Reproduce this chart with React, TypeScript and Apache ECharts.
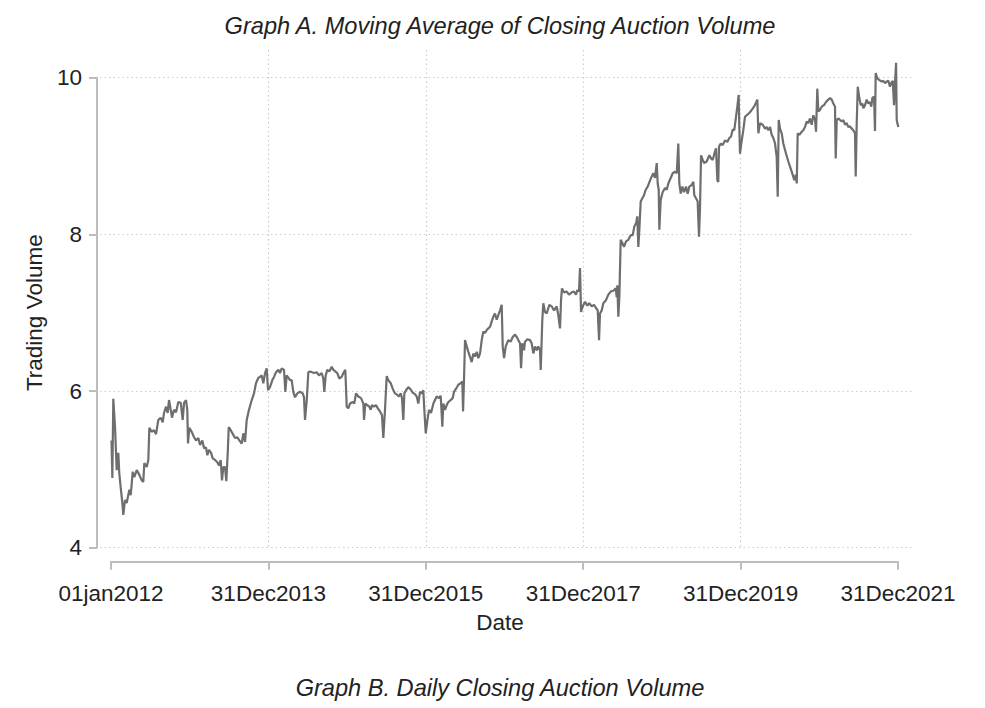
import { useEffect, useRef } from "react";
import * as echarts from "echarts";

const FONT = "'Liberation Sans', Arial, sans-serif";
const TEXT = "#222222";
const AXIS = "#bdbdbd";
const GRID = "#cdcdcd";

const titleA = "Graph A. Moving Average of Closing Auction Volume";
const titleB = "Graph B. Daily Closing Auction Volume";

// x ticks every two years, from 2012.0 to 2022.0 (decimal years)
const xTickLabels = ["01jan2012", "31Dec2013", "31Dec2015", "31Dec2017", "31Dec2019", "31Dec2021"];
const yMin = 4;
const yMax = 10;
const yStep = 2;

// [decimal year, volume]
const vol2012_13: [number, number][] = [
  [2012.006, 5.37], [2012.017, 4.89], [2012.029, 5.9], [2012.051, 5.54], [2012.072, 4.99], [2012.093, 5.21],
  [2012.105, 4.95], [2012.123, 4.77], [2012.144, 4.57], [2012.156, 4.42], [2012.178, 4.61], [2012.199, 4.57],
  [2012.233, 4.74], [2012.25, 4.67], [2012.276, 4.97], [2012.296, 4.9], [2012.327, 4.99], [2012.36, 4.93],
  [2012.39, 4.86], [2012.41, 4.84], [2012.423, 5.08], [2012.454, 5.03], [2012.474, 5.12], [2012.487, 5.53],
  [2012.517, 5.48], [2012.546, 5.5], [2012.572, 5.45], [2012.601, 5.63], [2012.631, 5.66], [2012.657, 5.6],
  [2012.673, 5.72], [2012.699, 5.8], [2012.72, 5.72], [2012.737, 5.885], [2012.759, 5.76], [2012.775, 5.66],
  [2012.8, 5.76], [2012.826, 5.73], [2012.855, 5.86], [2012.886, 5.85], [2012.911, 5.63], [2012.928, 5.85],
  [2012.953, 5.885], [2012.969, 5.76], [2012.978, 5.33], [2012.995, 5.53],
  [2013.025, 5.48], [2013.055, 5.41], [2013.08, 5.37], [2013.109, 5.4], [2013.131, 5.31], [2013.16, 5.37],
  [2013.182, 5.27], [2013.207, 5.28], [2013.224, 5.18], [2013.245, 5.25], [2013.271, 5.21], [2013.292, 5.14],
  [2013.321, 5.12], [2013.351, 5.09], [2013.372, 5.05], [2013.394, 5.12], [2013.41, 4.86], [2013.427, 5.03],
  [2013.448, 5.03], [2013.465, 4.85], [2013.483, 5.21], [2013.496, 5.54], [2013.521, 5.5], [2013.554, 5.44],
  [2013.576, 5.4], [2013.605, 5.41], [2013.63, 5.37], [2013.661, 5.33], [2013.681, 5.46], [2013.703, 5.35],
  [2013.724, 5.63], [2013.753, 5.76], [2013.788, 5.885], [2013.817, 5.97], [2013.842, 6.1], [2013.872, 6.17],
  [2013.893, 6.18], [2013.915, 6.2], [2013.935, 6.1], [2013.957, 6.23], [2013.978, 6.29], [2013.995, 6.01],
];

const vol2014_15: [number, number][] = [
  [2014.02, 6.05], [2014.05, 6.14], [2014.071, 6.18], [2014.096, 6.24], [2014.126, 6.27], [2014.147, 6.23],
  [2014.169, 6.29], [2014.198, 6.27], [2014.215, 5.99], [2014.232, 6.2], [2014.253, 6.17], [2014.274, 6.14],
  [2014.296, 6.14], [2014.316, 5.99], [2014.338, 5.92], [2014.367, 5.97], [2014.401, 5.99], [2014.436, 5.97],
  [2014.452, 5.92], [2014.465, 5.63], [2014.487, 5.885], [2014.507, 6.24], [2014.528, 6.25], [2014.579, 6.23],
  [2014.614, 6.24], [2014.643, 6.2], [2014.677, 6.23], [2014.697, 6.16], [2014.71, 5.99], [2014.728, 6.2],
  [2014.748, 6.27], [2014.774, 6.25], [2014.804, 6.31], [2014.825, 6.27], [2014.85, 6.25], [2014.875, 6.23],
  [2014.901, 6.16], [2014.931, 6.18], [2014.952, 6.23], [2014.977, 6.27], [2014.995, 5.8],
  [2015.015, 5.78], [2015.037, 5.84], [2015.071, 5.86], [2015.091, 5.84], [2015.113, 5.97], [2015.142, 5.93],
  [2015.177, 5.91], [2015.206, 5.84], [2015.215, 5.63], [2015.231, 5.84], [2015.257, 5.82], [2015.282, 5.8],
  [2015.3, 5.76], [2015.316, 5.82], [2015.342, 5.8], [2015.367, 5.82], [2015.389, 5.78], [2015.418, 5.74],
  [2015.443, 5.69], [2015.46, 5.4], [2015.481, 5.76], [2015.503, 6.19], [2015.523, 6.14], [2015.554, 6.1],
  [2015.579, 6.03], [2015.609, 5.97], [2015.638, 5.95], [2015.659, 5.93], [2015.681, 5.97], [2015.697, 5.91],
  [2015.714, 5.63], [2015.727, 5.97], [2015.748, 6.01], [2015.778, 6.05], [2015.808, 6.02], [2015.833, 5.98],
  [2015.863, 5.96], [2015.884, 5.93], [2015.905, 5.84], [2015.926, 5.99], [2015.948, 5.97], [2015.968, 6.01],
  [2015.981, 5.76], [2015.999, 5.46],
];

const vol2016_17: [number, number][] = [
  [2016.02, 5.63], [2016.041, 5.76], [2016.066, 5.72], [2016.096, 5.84], [2016.117, 5.885], [2016.138, 5.93],
  [2016.168, 5.91], [2016.189, 5.94], [2016.21, 5.545], [2016.222, 5.84], [2016.244, 5.76], [2016.265, 5.82],
  [2016.286, 5.86], [2016.316, 5.885], [2016.342, 5.91], [2016.358, 5.99], [2016.384, 6.03], [2016.413, 6.08],
  [2016.443, 6.1], [2016.464, 6.12], [2016.473, 5.74], [2016.485, 6.14], [2016.498, 6.65], [2016.52, 6.57],
  [2016.54, 6.5], [2016.561, 6.44], [2016.583, 6.37], [2016.604, 6.48], [2016.625, 6.44], [2016.647, 6.5],
  [2016.667, 6.42], [2016.689, 6.48], [2016.71, 6.65], [2016.731, 6.76], [2016.752, 6.74], [2016.774, 6.78],
  [2016.794, 6.8], [2016.816, 6.82], [2016.837, 6.89], [2016.858, 6.95], [2016.879, 6.99], [2016.901, 6.91],
  [2016.921, 6.97], [2016.943, 7.03], [2016.964, 7.1], [2016.977, 6.57], [2016.994, 6.42],
  [2017.015, 6.57], [2017.048, 6.65], [2017.079, 6.63], [2017.104, 6.69], [2017.133, 6.72], [2017.155, 6.69],
  [2017.175, 6.65], [2017.197, 6.61], [2017.21, 6.29], [2017.226, 6.61], [2017.248, 6.52], [2017.26, 6.63],
  [2017.29, 6.66], [2017.324, 6.65], [2017.345, 6.61], [2017.366, 6.48], [2017.387, 6.57], [2017.409, 6.52],
  [2017.429, 6.57], [2017.451, 6.52], [2017.46, 6.27], [2017.48, 6.91], [2017.493, 7.12], [2017.514, 7.01],
  [2017.536, 6.99], [2017.569, 7.1], [2017.6, 7.08], [2017.629, 7.03], [2017.663, 7.08], [2017.683, 6.97],
  [2017.705, 6.8], [2017.718, 7.16], [2017.73, 7.31], [2017.756, 7.26], [2017.79, 7.27], [2017.819, 7.23],
  [2017.854, 7.26], [2017.883, 7.27], [2017.908, 7.23], [2017.925, 7.29], [2017.946, 7.27], [2017.959, 7.57],
  [2017.972, 7.01], [2017.993, 7.08],
];

const vol2018_19: [number, number][] = [
  [2018.023, 7.14], [2018.052, 7.09], [2018.077, 7.12], [2018.108, 7.08], [2018.137, 7.1], [2018.162, 7.06],
  [2018.184, 7.03], [2018.201, 6.65], [2018.213, 6.99], [2018.235, 7.03], [2018.255, 7.12], [2018.289, 7.16],
  [2018.319, 7.23], [2018.349, 7.27], [2018.382, 7.28], [2018.413, 7.31], [2018.425, 7.2], [2018.433, 7.35],
  [2018.446, 6.95], [2018.459, 7.2], [2018.476, 7.93], [2018.497, 7.89], [2018.518, 7.84], [2018.544, 7.91],
  [2018.573, 7.93], [2018.603, 7.99], [2018.629, 7.99], [2018.649, 8.1], [2018.671, 8.14], [2018.687, 8.23],
  [2018.7, 7.84], [2018.713, 8.06], [2018.73, 8.42], [2018.751, 8.46], [2018.772, 8.5], [2018.794, 8.57],
  [2018.819, 8.61], [2018.849, 8.69], [2018.87, 8.74], [2018.891, 8.78], [2018.912, 8.72], [2018.934, 8.91],
  [2018.946, 8.65], [2018.959, 8.57], [2018.967, 8.06], [2018.984, 8.44],
  [2019.01, 8.54], [2019.039, 8.59], [2019.061, 8.57], [2019.081, 8.65], [2019.111, 8.72], [2019.137, 8.78],
  [2019.166, 8.8], [2019.188, 8.78], [2019.208, 9.16], [2019.221, 8.65], [2019.239, 8.52], [2019.259, 8.61],
  [2019.281, 8.54], [2019.306, 8.61], [2019.327, 8.52], [2019.348, 8.61], [2019.378, 8.63], [2019.399, 8.67],
  [2019.411, 8.5], [2019.433, 8.46], [2019.454, 8.42], [2019.471, 7.97], [2019.484, 8.35], [2019.497, 9.01],
  [2019.518, 8.95], [2019.535, 8.91], [2019.569, 8.93], [2019.602, 9.01], [2019.624, 8.97], [2019.645, 8.95],
  [2019.666, 9.03], [2019.687, 9.1], [2019.704, 8.69], [2019.716, 8.67], [2019.725, 9.12], [2019.747, 9.16],
  [2019.772, 9.14], [2019.801, 9.2], [2019.831, 9.18], [2019.856, 9.23], [2019.878, 9.25], [2019.899, 9.34],
  [2019.919, 9.33], [2019.941, 9.5], [2019.958, 9.63], [2019.975, 9.78], [2019.983, 9.37], [2019.992, 9.03],
];

const vol2020_21: [number, number][] = [
  [2020.008, 9.16], [2020.034, 9.33], [2020.055, 9.5], [2020.077, 9.52], [2020.11, 9.55], [2020.141, 9.59],
  [2020.17, 9.63], [2020.195, 9.68], [2020.212, 9.72], [2020.225, 9.29], [2020.246, 9.42], [2020.28, 9.4],
  [2020.31, 9.35], [2020.332, 9.37], [2020.352, 9.33], [2020.374, 9.37], [2020.395, 9.27], [2020.416, 9.23],
  [2020.437, 9.16], [2020.458, 8.99], [2020.471, 8.48], [2020.484, 9.46], [2020.5, 9.35], [2020.522, 9.29],
  [2020.542, 9.16], [2020.577, 9.03], [2020.606, 8.93], [2020.636, 8.84], [2020.662, 8.76], [2020.682, 8.69],
  [2020.7, 8.76], [2020.713, 8.65], [2020.725, 9.29], [2020.746, 9.27], [2020.776, 9.31], [2020.796, 9.33],
  [2020.818, 9.37], [2020.839, 9.44], [2020.86, 9.42], [2020.881, 9.48], [2020.903, 9.4], [2020.923, 9.52],
  [2020.945, 9.46], [2020.958, 9.31], [2020.974, 9.86], [2020.987, 9.57],
  [2021.009, 9.59], [2021.03, 9.63], [2021.059, 9.65], [2021.085, 9.69], [2021.114, 9.72], [2021.136, 9.74],
  [2021.157, 9.72], [2021.178, 9.67], [2021.199, 9.63], [2021.208, 8.97], [2021.221, 9.46], [2021.241, 9.48],
  [2021.263, 9.46], [2021.284, 9.44], [2021.305, 9.46], [2021.326, 9.4], [2021.348, 9.42], [2021.368, 9.37],
  [2021.39, 9.38], [2021.411, 9.35], [2021.432, 9.33], [2021.453, 9.29], [2021.462, 8.74], [2021.475, 9.42],
  [2021.488, 9.885], [2021.508, 9.74], [2021.526, 9.65], [2021.546, 9.67], [2021.559, 9.61], [2021.58, 9.65],
  [2021.602, 9.72], [2021.622, 9.67], [2021.644, 9.69], [2021.66, 9.63], [2021.673, 9.74], [2021.695, 9.76],
  [2021.707, 9.32], [2021.716, 10.06], [2021.737, 9.99], [2021.762, 9.97], [2021.793, 9.95], [2021.813, 9.96],
  [2021.835, 9.93], [2021.856, 9.95], [2021.877, 9.96], [2021.898, 9.885], [2021.911, 9.93], [2021.933, 9.96],
  [2021.949, 9.65], [2021.962, 9.95], [2021.975, 10.19], [2021.983, 9.46], [2021.991, 9.42], [2022.004, 9.37],
];

const volume = [...vol2012_13, ...vol2014_15, ...vol2016_17, ...vol2018_19, ...vol2020_21];

// the plot region is a little wider than the date range (Stata style)
const X_MIN = 2012 - 0.14;
const X_MAX = 2022 + 0.19;

const textStyle = { fontFamily: FONT, fontSize: 22.5, color: TEXT };
const titleStyle = { fontFamily: FONT, fontSize: 23.6, color: TEXT, fontStyle: "italic", fontWeight: "normal" };
const dotted = { type: [1.5, 3], color: GRID, width: 1.2 };

export default function App() {
  const chartRef = useRef<HTMLDivElement>(null);

  useEffect(() => {
    if (!chartRef.current) return;
    document.body.style.margin = "0";
    const chart = echarts.init(chartRef.current, null, { renderer: "svg" });

    const option = {
      animation: false,
      backgroundColor: "#ffffff",
      textStyle: { fontFamily: FONT },
      title: [
        { text: titleA, left: 495, textAlign: "center", top: 9, textStyle: titleStyle },
        { text: titleB, left: 495, textAlign: "center", top: 671, textStyle: titleStyle },
      ],
      grid: [
        { left: 100, right: 72, top: 77.7, bottom: 160.3 },
        { left: 111, right: 87, top: 50, bottom: 160.3 },
      ],
      xAxis: [
        { type: "value", gridIndex: 0, min: X_MIN, max: X_MAX, show: false },
        {
          type: "value",
          gridIndex: 1,
          min: 2012,
          max: 2022,
          interval: 2,
          offset: 14,
          name: "Date",
          nameLocation: "middle",
          nameGap: 49,
          nameTextStyle: { ...textStyle, padding: [0, 9, 0, 0] },
          axisLine: { show: true, onZero: false, lineStyle: { color: AXIS, width: 2 } },
          axisTick: { show: true, length: 8, lineStyle: { color: AXIS, width: 2 } },
          axisLabel: {
            ...textStyle,
            margin: 20,
            formatter: (v: number) => xTickLabels[Math.round((v - 2012) / 2)] ?? "",
          },
          splitLine: { show: true, showMinLine: false, showMaxLine: false, lineStyle: dotted },
        },
      ],
      yAxis: [
        {
          type: "value",
          gridIndex: 0,
          min: yMin,
          max: yMax,
          interval: yStep,
          offset: 3,
          name: "Trading Volume",
          nameLocation: "middle",
          nameRotate: 90,
          nameGap: 48,
          nameTextStyle: textStyle,
          axisLine: { show: true, onZero: false, lineStyle: { color: AXIS, width: 2 } },
          axisTick: { show: true, length: 8, lineStyle: { color: AXIS, width: 2 } },
          axisLabel: { ...textStyle, margin: 15 },
          splitLine: { show: true, lineStyle: dotted },
        },
        { type: "value", gridIndex: 1, min: 0, max: 1, show: false },
      ],
      series: [
        {
          type: "line",
          xAxisIndex: 0,
          yAxisIndex: 0,
          data: volume,
          symbol: "none",
          clip: false,
          lineStyle: { color: "#6e6e70", width: 2.2 },
        },
      ],
    };

    chart.setOption(option);
    return () => chart.dispose();
  }, []);

  return <div ref={chartRef} style={{ width: 985, height: 708 }} />;
}
